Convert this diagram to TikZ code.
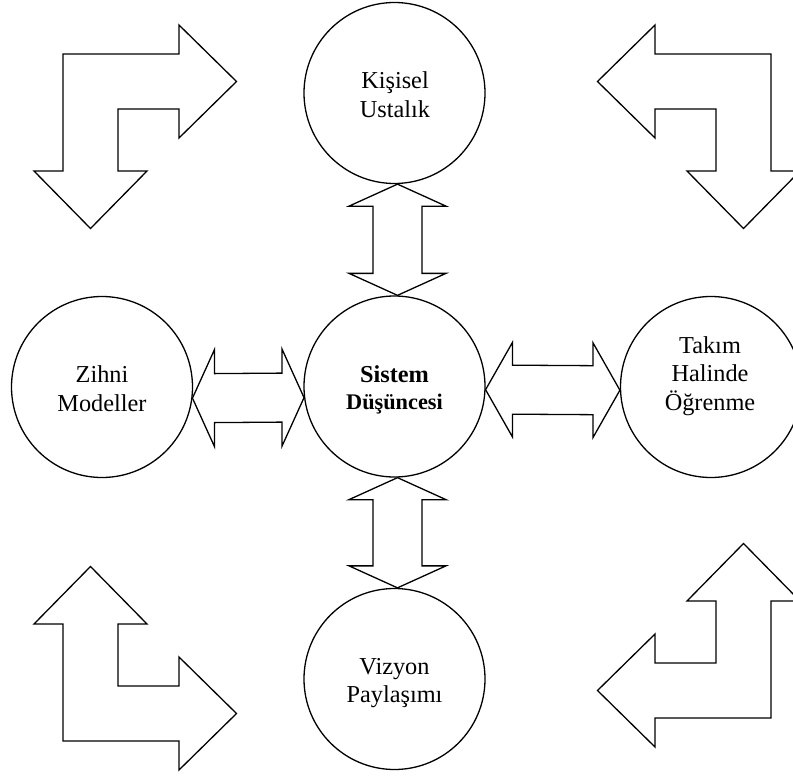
\documentclass[tikz,border=0pt]{standalone}
\usepackage{fontspec}
\setmainfont{Liberation Serif}
\usetikzlibrary{calc}

\tikzset{
  ring/.style={draw, circle, minimum size=181pt, inner sep=0pt, line width=1.3pt},
  lbl/.style={align=center, inner sep=0pt, font=\fontsize{24.3}{29}\selectfont},
  blockarrow/.style={draw, fill=white, line width=1.3pt, line join=miter},
}

% vertical double block arrow between two tips #1 (upper) and #2 (lower)
% #3 head length, #4 half head width, #5 half shaft width
\newcommand{\vblock}[5]{%
  \draw[blockarrow] (#1) -- ($(#1)+(#4,#3)$) -- ($(#1)+(#5,#3)$)
    -- ($(#2)+(#5,-#3)$) -- ($(#2)+(#4,-#3)$) -- (#2)
    -- ($(#2)+(-#4,-#3)$) -- ($(#2)+(-#5,-#3)$)
    -- ($(#1)+(-#5,#3)$) -- ($(#1)+(-#4,#3)$) -- cycle;}
% horizontal double block arrow between tips #1 (left) and #2 (right)
\newcommand{\hblock}[5]{%
  \draw[blockarrow] (#1) -- ($(#1)+(#3,-#4)$) -- ($(#1)+(#3,-#5)$)
    -- ($(#2)+(-#3,-#5)$) -- ($(#2)+(-#3,-#4)$) -- (#2)
    -- ($(#2)+(-#3,#4)$) -- ($(#2)+(-#3,#5)$)
    -- ($(#1)+(#3,#5)$) -- ($(#1)+(#3,#4)$) -- cycle;}
% bent arrow pointing right and down
\newcommand{\bentpath}{(63,54) -- (179,54) -- (179,25) -- (236.5,81.5) -- (179,138)
  -- (179,109) -- (118,109) -- (118,171) -- (147,171) -- (90.5,228.5)
  -- (34,171) -- (63,171) -- cycle}

\begin{document}
\begin{tikzpicture}[x=1pt, y=-1pt]
  \useasboundingbox (0,0) rectangle (793,776);

  % corner bent arrows
  \draw[blockarrow] \bentpath;
  \begin{scope}[shift={(834,0)}, xscale=-1]
    \draw[blockarrow] \bentpath;
  \end{scope}
  \begin{scope}[shift={(0,795)}, yscale=-1]
    \draw[blockarrow] \bentpath;
  \end{scope}
  \begin{scope}[shift={(834,772)}, xscale=-1, yscale=-1]
    \draw[blockarrow] \bentpath;
  \end{scope}

  % the five disciplines
  \node[ring] (kisisel) at (394.5,93)  {};
  \node[ring] (sistem)  at (394.5,386.5) {};
  \node[ring] (vizyon)  at (394.5,679) {};
  \node[ring] (zihni)   at (102,387)   {};
  \node[ring] (takim)   at (711,387)   {};

  \node[lbl] (kisisel-t) at ($(kisisel)+(0.5,1.7)$) {Kişisel\\Ustalık};
  \node[lbl] (zihni-t)   at ($(zihni)+(0,1.2)$)     {Zihni\\Modeller};
  \node[lbl, font=\fontsize{24.3}{28.5}\selectfont] (takim-t) at ($(takim)+(-1,-11)$) {Takım\\Halinde\\Öğrenme};
  \node[lbl, font=\fontsize{24.3}{28}\selectfont] (vizyon-t) at ($(vizyon)+(0,4.5)$) {Vizyon\\Paylaşımı};
  \node[lbl, font=\fontsize{24.3}{27}\selectfont\bfseries] (sistem-t) at ($(sistem)+(0,3)$)
    {Sistem\\{\fontsize{22.3}{27}\selectfont Düşüncesi}};

  % tips of the double arrows on the circle borders
  \coordinate (up1) at ($(kisisel.south)+(3,0)$);
  \coordinate (up2) at ($(sistem.north)+(3,0)$);
  \coordinate (dn1) at ($(sistem.south)+(3,0)$);
  \coordinate (dn2) at ($(vizyon.north)+(3,0)$);
  \coordinate (lf1) at (zihni.-7);
  \coordinate (lf2) at (sistem.187);
  \coordinate (rt1) at (sistem.-2);
  \coordinate (rt2) at (takim.182);

  \vblock{up1}{up2}{22}{48.5}{24.5}
  \vblock{dn1}{dn2}{22}{48.5}{24.5}
  \hblock{lf1}{lf2}{22}{48.5}{24.5}
  \hblock{rt1}{rt2}{27}{47.5}{24.5}
\end{tikzpicture}
\end{document}
